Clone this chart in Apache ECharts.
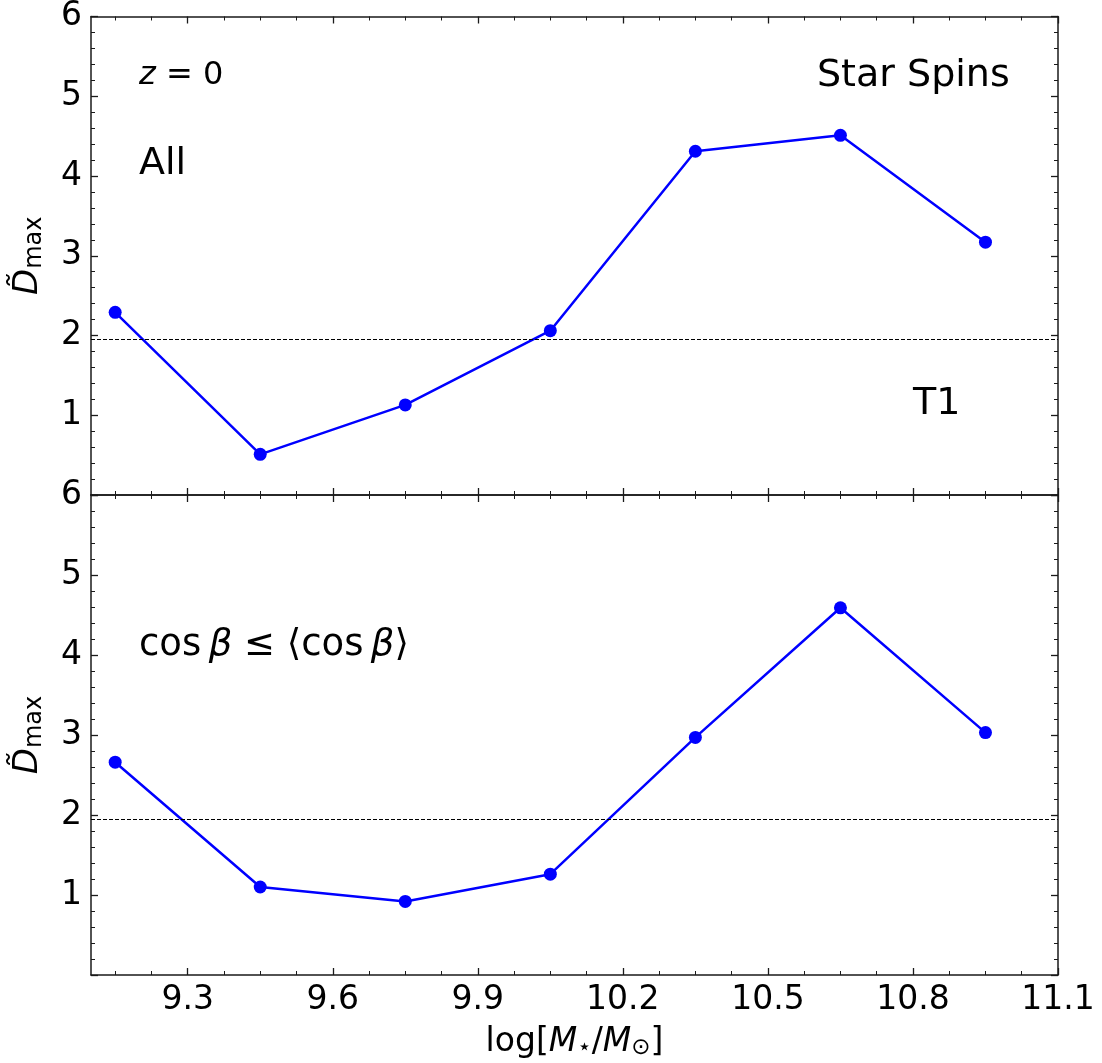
<!DOCTYPE html>
<html>
<head>
<meta charset="utf-8">
<script src="https://cdn.jsdelivr.net/npm/echarts@6/dist/echarts.min.js"></script>
<style>
  html, body { margin: 0; padding: 0; background: #fff; }
  #chart { width: 1102px; height: 1063px; }
</style>
</head>
<body>
<div id="chart"></div>
<script>
// Stellar mass bins (log M*/Msun)
const massBins = [9.15, 9.45, 9.75, 10.05, 10.35, 10.65, 10.95];
// D_max for all galaxies
const dmaxAll = [2.29, 0.51, 1.13, 2.06, 4.31, 4.51, 3.17];
// D_max for cos(beta) <= <cos(beta)>
const dmaxLowCos = [2.66, 1.10, 0.92, 1.26, 2.97, 4.59, 3.03];
// significance threshold (dashed line)
const threshold = 1.95;

// tick positions on the mass axis
const xMajorTicks = [9.3, 9.6, 9.9, 10.2, 10.5, 10.8, 11.1];
const xMinorTicks = [9.15, 9.225, 9.375, 9.45, 9.525, 9.675, 9.75, 9.825, 9.975,
  10.05, 10.125, 10.275, 10.35, 10.425, 10.575, 10.65, 10.725, 10.875, 10.95, 11.025];

const FONT = 'DejaVu Sans';
const AXIS_COLOR = '#1a1a1a';
const X_MIN = 9.1, X_MAX = 11.1;
const TICK_FONT = 33;

function xAxisPair(grid, position, withLabels, isMajor) {
  const vals = isMajor ? xMajorTicks : xMinorTicks;
  return {
    type: 'value', gridIndex: grid, position: position,
    min: X_MIN, max: X_MAX,
    axisLine: { show: isMajor, onZero: false, lineStyle: { color: AXIS_COLOR, width: 1.5 } },
    axisTick: { show: true, inside: true, length: isMajor ? 7 : 4, customValues: vals,
      lineStyle: { color: AXIS_COLOR, width: isMajor ? 1.3 : 1 } },
    axisLabel: { show: withLabels, customValues: vals, fontFamily: FONT, fontSize: TICK_FONT,
      color: '#000', margin: 9, formatter: v => (+v).toFixed(1) },
    splitLine: { show: false },
    minorTick: { show: false }
  };
}

function yAxisDef(grid, position, withLabels) {
  return {
    type: 'value', gridIndex: grid, position: position,
    min: 0, max: 6, interval: 1,
    axisLine: { show: true, onZero: false, lineStyle: { color: AXIS_COLOR, width: 1.5 } },
    axisTick: { show: true, inside: true, length: 7, lineStyle: { color: AXIS_COLOR, width: 1.3 } },
    minorTick: { show: true, splitNumber: 5, length: 4, lineStyle: { color: AXIS_COLOR, width: 1 } },
    axisLabel: { show: withLabels, fontFamily: FONT, fontSize: TICK_FONT, color: '#000', margin: 9,
      formatter: v => (v === 0 ? '' : String(v)) },
    splitLine: { show: false },
    name: withLabels ? '{d|D\u0303}{s|max}' : '',
    nameLocation: 'middle', nameRotate: 90, nameGap: 44,
    nameTextStyle: {
      fontFamily: FONT, fontSize: 33, color: '#000',
      rich: {
        d: { fontFamily: FONT, fontStyle: 'italic', fontSize: 34, color: '#000' },
        s: { fontFamily: FONT, fontSize: 24, color: '#000', padding: [13, 0, 0, 0] }
      }
    }
  };
}

const xAxes = [
  xAxisPair(0, 'bottom', false, true),
  xAxisPair(0, 'bottom', false, false),
  xAxisPair(0, 'top', false, true),
  xAxisPair(0, 'top', false, false),
  xAxisPair(1, 'bottom', true, true),
  xAxisPair(1, 'bottom', false, false),
  xAxisPair(1, 'top', false, true),
  xAxisPair(1, 'top', false, false)
];
// mass-axis title under the lower panel
Object.assign(xAxes[4], {
  name: '{n|log[}{i|M}{s|\u22C6}{n|/}{i|M}{s|\u2299}{n|]}',
  nameLocation: 'middle', nameGap: 49,
  nameTextStyle: {
    fontFamily: FONT, fontSize: 33, color: '#000',
    rich: {
      n: { fontFamily: FONT, fontSize: 33, color: '#000' },
      i: { fontFamily: FONT, fontSize: 33, fontStyle: 'italic', color: '#000' },
      s: { fontFamily: FONT, fontSize: 23, color: '#000', padding: [13, 0, 0, 0] }
    }
  }
});

const yAxes = [
  yAxisDef(0, 'left', true),
  yAxisDef(0, 'right', false),
  yAxisDef(1, 'left', true),
  yAxisDef(1, 'right', false)
];

function panelSeries(values, xIdx, yIdx) {
  return {
    type: 'line', xAxisIndex: xIdx, yAxisIndex: yIdx,
    data: massBins.map((x, i) => [x, values[i]]),
    symbol: 'circle', symbolSize: 13,
    lineStyle: { color: '#0000ff', width: 2.5 },
    itemStyle: { color: '#0000ff' },
    z: 3,
    markLine: {
      silent: true, symbol: 'none', label: { show: false },
      lineStyle: { color: '#000', width: 1, type: [4, 2] },
      data: [{ yAxis: threshold }]
    }
  };
}

function textEl(x, y, text, size, rich) {
  return {
    type: 'text', x: x, y: y,
    style: { text: text, fontFamily: FONT, fontSize: size, fill: '#000',
      verticalAlign: 'middle', align: 'left', rich: rich || {} }
  };
}

const option = {
  backgroundColor: '#fff',
  animation: false,
  grid: [
    { left: 91, right: 44, top: 13, height: 482 },
    { left: 91, right: 44, top: 495, height: 480 }
  ],
  xAxis: xAxes,
  yAxis: yAxes,
  series: [
    panelSeries(dmaxAll, 0, 0),
    panelSeries(dmaxLowCos, 4, 2)
  ],
  graphic: [
    textEl(139, 76, '{i|z} = 0', 32, { i: { fontFamily: FONT, fontStyle: 'italic', fontSize: 32, fill: '#000' } }),
    textEl(139, 164, 'All', 38),
    textEl(817, 76, 'Star Spins', 38),
    textEl(913, 404, 'T1', 38),
    textEl(139, 645, 'cos\u2009{i|\u03B2} \u2264 \u27E8cos\u2009{i|\u03B2}\u27E9', 37,
      { i: { fontFamily: FONT, fontStyle: 'italic', fontSize: 37, fill: '#000' } })
  ]
};

echarts.init(document.getElementById('chart'), null, { renderer: 'canvas' }).setOption(option);
</script>
</body>
</html>
